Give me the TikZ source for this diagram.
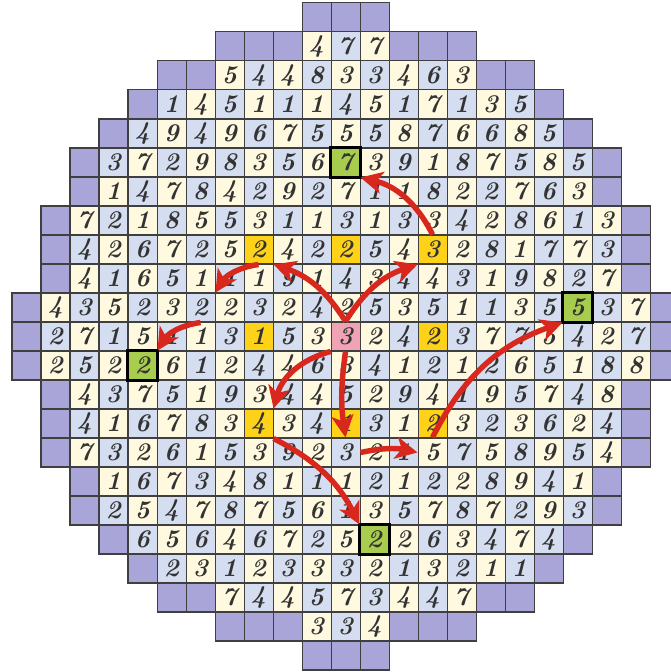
\documentclass[tikz,border=0pt]{standalone}
\usepackage{tikz}
\usetikzlibrary{arrows.meta}
\definecolor{RingPurple}{HTML}{A9A5D9}
\definecolor{CellCream}{HTML}{FFFADF}
\definecolor{CellBlue}{HTML}{D5DDF0}
\definecolor{HopYellow}{HTML}{FFD21A}
\definecolor{GoalGreen}{HTML}{A8CC4E}
\definecolor{StartPink}{HTML}{EFA3B5}
\definecolor{PathRed}{HTML}{D8281E}
\definecolor{GridGray}{HTML}{3F3F3F}

% special cells: row, column, colour
\newcommand{\markcell}[3]{\expandafter\def\csname mark-#1-#2\endcsname{#3}}
\markcell{11}{11}{StartPink}
\markcell{8}{8}{HopYellow}
\markcell{8}{11}{HopYellow}
\markcell{8}{14}{HopYellow}
\markcell{11}{8}{HopYellow}
\markcell{11}{14}{HopYellow}
\markcell{14}{8}{HopYellow}
\markcell{14}{11}{HopYellow}
\markcell{14}{14}{HopYellow}
\markcell{5}{11}{GoalGreen}
\markcell{10}{19}{GoalGreen}
\markcell{12}{4}{GoalGreen}
\markcell{18}{12}{GoalGreen}

\tikzset{
    cellbox/.style={draw=GridGray, line width=0.6pt, minimum size=0.6cm, inner sep=0pt,
        text=black!80, font=\fontsize{15}{15}\selectfont\bfseries\itshape},
    ringbox/.style={draw=GridGray, line width=0.6pt, fill=RingPurple},
    goalrim/.style={draw=black, line width=1.6pt},
    hop/.style={PathRed, line width=3.2pt, -{Stealth[length=13pt,width=13pt,inset=3.5pt]}}
}

\begin{document}
\begin{tikzpicture}[x=0.6cm, y=0.6cm]
    \useasboundingbox (-0.414,0.103) rectangle (22.69,-23.069);

    % Outer ring of empty cells
    \foreach \r/\cols in {0/{10,11,12}, 1/{7,8,9,13,14,15}, 2/{5,6,16,17}, 3/{4,18}, 4/{3,19},
        5/{2,20}, 6/{2,20}, 7/{1,21}, 8/{1,21}, 9/{1,21}, 10/{0,22}, 11/{0,22}, 12/{0,22},
        13/{1,21}, 14/{1,21}, 15/{1,21}, 16/{2,20}, 17/{2,20}, 18/{3,19}, 19/{4,18},
        20/{5,6,16,17}, 21/{7,8,9,13,14,15}, 22/{10,11,12}}
        \foreach \col in \cols
            \draw[ringbox] (\col,-\r) rectangle ++(1,-1);

    % Number cells: row / first column / values
    \foreach \r/\s/\vals in {
        1/10/{4,7,7},
        2/7/{5,4,4,8,3,3,4,6,3},
        3/5/{1,4,5,1,1,1,4,5,1,7,1,3,5},
        4/4/{4,9,4,9,6,7,5,5,5,8,7,6,6,8,5},
        5/3/{3,7,2,9,8,3,5,6,7,3,9,1,8,7,5,8,5},
        6/3/{1,4,7,8,4,2,9,2,7,1,1,8,2,2,7,6,3},
        7/2/{7,2,1,8,5,5,3,1,1,3,1,3,3,4,2,8,6,1,3},
        8/2/{4,2,6,7,2,5,2,4,2,2,5,4,3,2,8,1,7,7,3},
        9/2/{4,1,6,5,1,1,1,9,1,4,3,4,4,3,1,9,8,2,7},
        10/1/{4,3,5,2,3,2,2,3,2,4,2,5,3,5,1,1,3,5,5,3,7},
        11/1/{2,7,1,5,1,1,3,1,5,3,3,2,4,2,3,7,7,5,4,2,7},
        12/1/{2,5,2,2,6,1,2,4,4,6,3,4,1,2,1,2,6,5,1,8,8},
        13/2/{4,3,7,5,1,9,3,4,4,5,2,9,4,1,9,5,7,4,8},
        14/2/{4,1,6,7,8,3,4,3,4,1,3,1,2,3,2,3,6,2,4},
        15/2/{7,3,2,6,1,5,3,9,2,3,2,1,5,7,5,8,9,5,4},
        16/3/{1,6,7,3,4,8,1,1,1,2,1,2,2,8,9,4,1},
        17/3/{2,5,4,7,8,7,5,6,1,3,5,7,8,7,2,9,3},
        18/4/{6,5,6,4,6,7,2,5,2,2,6,3,4,7,4},
        19/5/{2,3,1,2,3,3,3,2,1,3,2,1,1},
        20/7/{7,4,4,5,7,3,4,4,7},
        21/10/{3,3,4}}
        \foreach \v [count=\i from 0] in \vals {
            \pgfmathtruncatemacro{\col}{\s+\i}
            \pgfmathtruncatemacro{\odd}{mod(\r+\col,2)}
            \ifnum\odd=1 \def\fillc{CellCream}\else\def\fillc{CellBlue}\fi
            \ifcsname mark-\r-\col\endcsname \edef\fillc{\csname mark-\r-\col\endcsname}\fi
            \node[cellbox, fill=\fillc] (c\r-\col) at (\col+0.5,-\r-0.5) {\v};
        }

    % Goal cells get a heavy rim
    \foreach \g in {c5-11, c10-19, c12-4, c18-12}
        \draw[goalrim] (\g.south west) rectangle (\g.north east);

    % Jumps
    \draw[hop] (c11-11.north) to[bend right=20] (c8-8.south east);
    \draw[hop] (c11-11.north) to[bend left=20] (c8-14.south west);
    \draw[hop] (c11-11.south west) to[bend right=30] (c14-8.north east);
    \draw[hop] (c11-11.south) to[bend right=8] (c15-11.north);

    \draw[hop] (c8-8.south) to[bend right=25] (c10-6.north east);
    \draw[hop] (c10-6.south) to[bend right=25] (c12-4.north east);
    \draw[hop] (c8-14.north) to[bend right=25] (c5-11.south east);
    \draw[hop] (c14-8.south east) to[bend left=18] (c18-12.north west);
    \draw[hop] (c15-11.east) to[bend left=12] (c15-14.west);
    \draw[hop] (c15-14.north) to[bend left=22] (c10-19.south west);
\end{tikzpicture}
\end{document}
